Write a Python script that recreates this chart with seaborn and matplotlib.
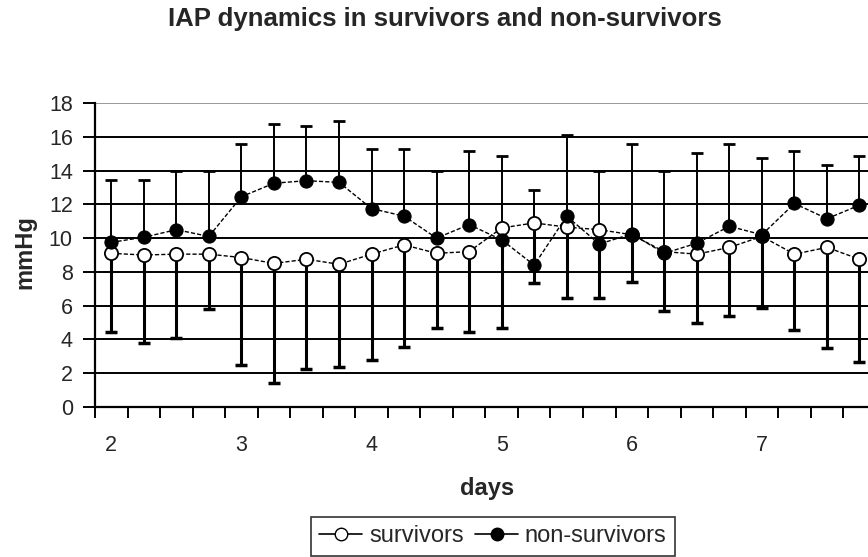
import matplotlib
matplotlib.use("Agg")
import matplotlib.pyplot as plt
from matplotlib.lines import Line2D
import seaborn as sns
import numpy as np
import pandas as pd

# time points (days) and IAP values, mmHg
days = [2.0, 2.25, 2.5, 2.75, 3.0, 3.25, 3.5, 3.75,
        4.0, 4.25, 4.5, 4.75, 5.0, 5.25, 5.5, 5.75,
        6.0, 6.25, 6.5, 6.75, 7.0, 7.25, 7.5, 7.75]

surv_mean = [9.1, 9.0, 9.05, 9.05, 8.85, 8.5, 8.75, 8.45,
             9.05, 9.6, 9.1, 9.2, 10.6, 10.9, 10.65, 10.5,
             10.2, 9.2, 9.05, 9.45, 10.1, 9.05, 9.45, 8.75]
surv_sd = [4.66, 5.21, 4.97, 3.22, 6.36, 7.08, 6.52, 6.06,
           6.27, 6.03, 4.42, 4.78, 5.93, 3.58, 4.18, 4.02,
           2.78, 3.53, 4.08, 4.08, 4.23, 4.47, 5.97, 6.1]

nonsurv_mean = [9.75, 10.05, 10.5, 10.1, 12.45, 13.25, 13.4, 13.3,
                11.75, 11.3, 10.0, 10.8, 9.9, 8.4, 11.3, 9.65,
                10.25, 9.1, 9.7, 10.7, 10.2, 12.05, 11.15, 11.95]
nonsurv_sd = [3.71, 3.42, 3.48, 3.86, 3.12, 3.5, 3.23, 3.61,
              3.52, 3.97, 3.96, 4.34, 4.98, 4.42, 4.83, 4.31,
              5.31, 4.87, 5.33, 4.87, 4.54, 3.09, 3.18, 2.93]

day_labels = ["2", "3", "4", "5", "6", "7"]
day_ticks = [2, 3, 4, 5, 6, 7]

df = pd.DataFrame({"day": days, "surv": surv_mean, "nonsurv": nonsurv_mean})

sns.set_style("white")
plt.rcParams["font.family"] = ["Liberation Sans", "DejaVu Sans"]

fig = plt.figure(figsize=(8.68, 5.57), dpi=100)
W, H = 868, 557
# plot area; right side runs past the image edge like the source
x0_px, x1_px = 95, 875.75
ax = fig.add_axes([x0_px / W, (H - 407) / H, (x1_px - x0_px) / W, (407 - 103) / H])

# error bars: survivors downwards, non-survivors upwards
zeros = np.zeros(len(days))
ax.errorbar(days, surv_mean, yerr=[surv_sd, zeros], fmt="none",
            ecolor="black", elinewidth=2.2, capsize=4, capthick=2.5, zorder=2)
ax.errorbar(days, nonsurv_mean, yerr=[zeros, nonsurv_sd], fmt="none",
            ecolor="black", elinewidth=1.4, capsize=4, capthick=2.0, zorder=2)

sns.lineplot(data=df, x="day", y="surv", ax=ax, color="black", lw=1,
             linestyle=(0, (3, 1.5)), marker="o", markersize=9.5,
             markerfacecolor="white", markeredgecolor="black",
             markeredgewidth=1.3, zorder=3)
sns.lineplot(data=df, x="day", y="nonsurv", ax=ax, color="black", lw=1,
             linestyle=(0, (3, 1.5)), marker="o", markersize=9.5,
             markerfacecolor="black", markeredgecolor="black", zorder=4)

ax.set_xlim(1.875, 7.875)
ax.set_ylim(0, 18)
ax.set_yticks(range(0, 19, 2))
ax.set_xticks(day_ticks)
ax.set_xticklabels(day_labels)
ax.set_xticks(np.arange(1.875, 7.9, 0.25), minor=True)

for y in range(2, 17, 2):
    ax.axhline(y, color="black", lw=1.4, zorder=1)
ax.axhline(18, color="#888888", lw=1.2, zorder=1)

for s in ["top", "right"]:
    ax.spines[s].set_visible(False)
for s in ["left", "bottom"]:
    ax.spines[s].set_color("black")
    ax.spines[s].set_linewidth(1.6)

ax.tick_params(axis="y", which="major", direction="out", length=9, width=1.4,
               color="black", labelsize=15.5, pad=7, left=True)
ax.tick_params(axis="x", which="major", length=0, labelsize=15.5, pad=20)
ax.tick_params(axis="x", which="minor", direction="out", length=8, width=1.4,
               color="black", bottom=True)

ax.set_xlabel("")
ax.set_ylabel("")
fig.text(487 / W, 1 - 488 / H, "days", ha="center", va="center",
         fontsize=17, fontweight="bold")
fig.text(25 / W, 1 - 252 / H, "mmHg", ha="center", va="center",
         rotation=90, fontsize=17, fontweight="bold")
fig.text(445 / W, 1 - 19 / H, "IAP dynamics in survivors and non-survivors",
         ha="center", va="center", fontsize=18.5, fontweight="bold")

handles = [
    Line2D([], [], color="black", lw=1.2, marker="o", markersize=9,
           markerfacecolor="white", markeredgecolor="black"),
    Line2D([], [], color="black", lw=1.2, marker="o", markersize=9,
           markerfacecolor="black", markeredgecolor="black"),
]
leg = fig.legend(handles, ["survivors", "non-survivors"], loc="upper center",
                 bbox_to_anchor=(493 / W, 1 - 517 / H), ncol=2, fontsize=17,
                 frameon=True, fancybox=False, edgecolor="black",
                 handlelength=1.8, handletextpad=0.3, columnspacing=0.5,
                 borderpad=0.35, borderaxespad=0)
leg.get_frame().set_linewidth(1.2)

fig.savefig("out.png", dpi=100)
